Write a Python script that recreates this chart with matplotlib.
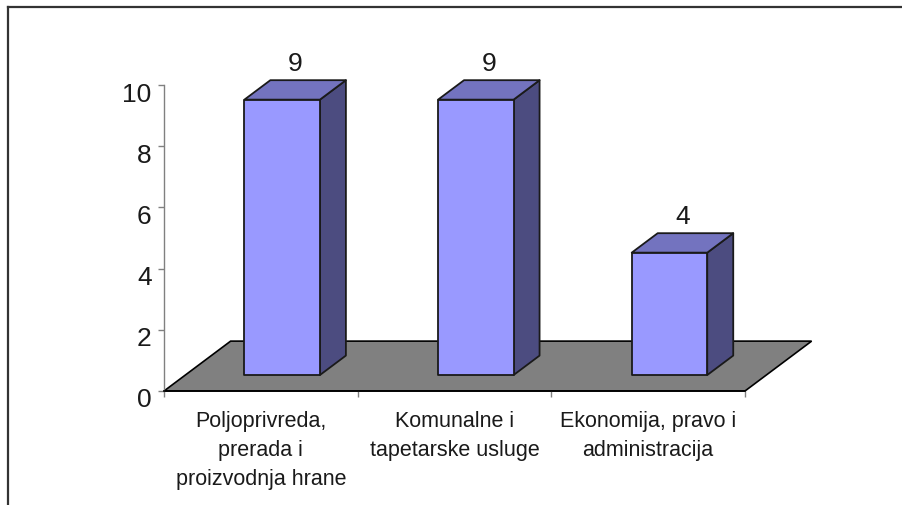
"""Excel-style 3D column chart: broj zanimanja po podrucju rada."""

import matplotlib

matplotlib.use("Agg")
import matplotlib.pyplot as plt
from matplotlib.lines import Line2D
from matplotlib.patches import Polygon
from matplotlib.transforms import ScaledTranslation

plt.rcParams["font.family"] = ["Liberation Sans", "DejaVu Sans"]

CATEGORIES = [
    "Poljoprivreda,\nprerada i\nproizvodnja hrane",
    "Komunalne i\ntapetarske usluge",
    "Ekonomija, pravo i\nadministracija",
]
VALUES = [9, 9, 4]
Y_TICKS = [0, 2, 4, 6, 8, 10]

FRONT = "#9999FF"
SIDE = "#4C4C80"
TOP = "#7373BF"
FLOOR = "#808080"
AXIS_GRAY = "#808080"
TEXT = "#1a1a1a"

# fake 3D projection, in data units (category width / value units)
DEPTH_DX = 0.344
DEPTH_DY = 1.63
BAR_W = 0.39
Z_FRONT = 0.32
Z_BACK = 0.71


def proj(x, y, z):
    return (x + z * DEPTH_DX, y + z * DEPTH_DY)


def main() -> None:
    fig = plt.figure(figsize=(9.02, 5.06), dpi=100)
    ax = fig.add_axes([164 / 902, 1 - 392 / 506, 581 / 902, 306 / 506])
    ax.set_xlim(-0.5, len(CATEGORIES) - 0.5)
    ax.set_ylim(0, 10)

    # floor
    x0, x1 = -0.5, len(CATEGORIES) - 0.5
    floor = [proj(x0, 0, 0), proj(x1, 0, 0), proj(x1, 0, 1), proj(x0, 0, 1)]
    ax.add_patch(Polygon(floor, closed=True, facecolor=FLOOR, edgecolor="black",
                         linewidth=1.2, clip_on=False, zorder=1))

    z_mid = (Z_FRONT + Z_BACK) / 2
    for i, v in enumerate(VALUES):
        left, right = i - BAR_W / 2, i + BAR_W / 2
        front = [proj(left, 0, Z_FRONT), proj(right, 0, Z_FRONT),
                 proj(right, v, Z_FRONT), proj(left, v, Z_FRONT)]
        side = [proj(right, 0, Z_FRONT), proj(right, 0, Z_BACK),
                proj(right, v, Z_BACK), proj(right, v, Z_FRONT)]
        top = [proj(left, v, Z_FRONT), proj(right, v, Z_FRONT),
               proj(right, v, Z_BACK), proj(left, v, Z_BACK)]
        for poly, color in ((side, SIDE), (top, TOP), (front, FRONT)):
            ax.add_patch(Polygon(poly, closed=True, facecolor=color, edgecolor=TEXT,
                                 linewidth=1.3, joinstyle="round", clip_on=False, zorder=3))
        lx, ly = proj(i, v, z_mid)
        ax.annotate(str(v), (lx, ly), xytext=(0, 15), textcoords="offset pixels",
                    ha="center", va="bottom", fontsize=19, color=TEXT,
                    annotation_clip=False)

    for side_name in ("top", "right"):
        ax.spines[side_name].set_visible(False)
    ax.spines["left"].set_color(AXIS_GRAY)
    ax.spines["bottom"].set_color("black")
    ax.spines["left"].set_linewidth(1.0)
    ax.spines["bottom"].set_linewidth(1.2)

    ax.set_yticks(Y_TICKS)
    ax.tick_params(axis="y", length=4, width=1, color=AXIS_GRAY, pad=5,
                   labelsize=19, labelcolor=TEXT)
    shift = ScaledTranslation(0, -6 / 100, fig.dpi_scale_trans)
    for lab in ax.get_yticklabels():
        lab.set_transform(lab.get_transform() + shift)

    ax.set_xticks([i for i in range(len(CATEGORIES))])
    ax.set_xticklabels(CATEGORIES, fontsize=15.5, color=TEXT, linespacing=1.5)
    ax.tick_params(axis="x", which="major", length=0, pad=14)
    ax.set_xticks([i - 0.5 for i in range(len(CATEGORIES) + 1)], minor=True)
    ax.tick_params(axis="x", which="minor", length=4, width=1, color=AXIS_GRAY)

    # outer chart-area frame (cropped: only top and left edge visible)
    fig.add_artist(Line2D([8 / 902, 1], [1 - 8 / 506, 1 - 8 / 506],
                          transform=fig.transFigure, color="#333333", linewidth=1.6))
    fig.add_artist(Line2D([8 / 902, 8 / 902], [0, 1 - 8 / 506],
                          transform=fig.transFigure, color="#333333", linewidth=1.6))

    fig.savefig("out.png", dpi=100)
    plt.close(fig)


if __name__ == "__main__":
    main()
